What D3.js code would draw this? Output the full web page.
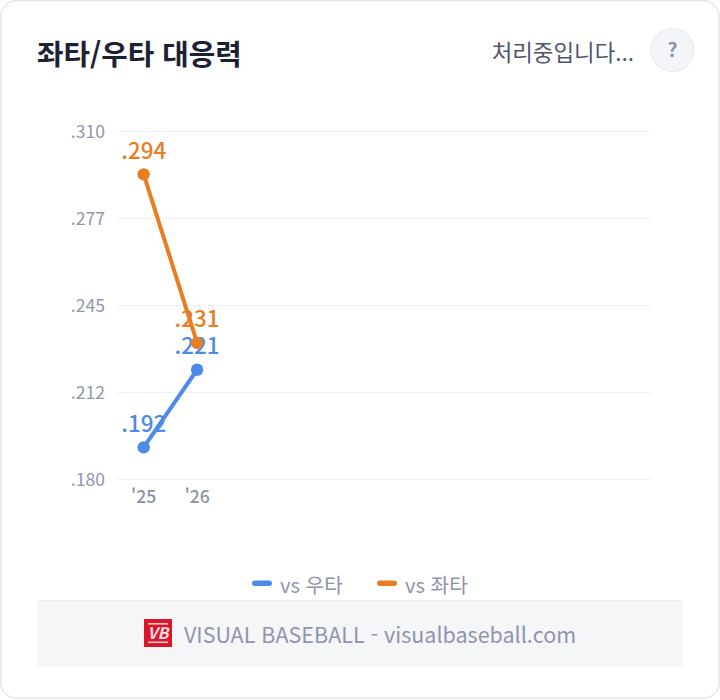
<!DOCTYPE html>
<html lang="ko">
<head>
<meta charset="utf-8">
<title>좌타/우타 대응력</title>
<script src="https://cdn.jsdelivr.net/npm/d3@7/dist/d3.min.js"></script>
<style>
  html, body { margin: 0; padding: 0; background: #fff; }
  svg, svg g, svg text { font-family: "Noto Sans CJK KR", "Noto Sans", sans-serif; }
  svg { display: block; }
</style>
</head>
<body>
<svg id="chart" width="720" height="700"></svg>
<script>
const chartTitle = "좌타/우타 대응력";
const statusText = "처리중입니다...";
const footerText = "VISUAL BASEBALL - visualbaseball.com";
const seasons = ["'25", "'26"];
const slotCount = 10;
const vsRight = [0.192, 0.221];
const vsLeft = [0.294, 0.231];
const tickValues = [0.31, 0.2775, 0.245, 0.2125, 0.18];
const tickLabels = [".310", ".277", ".245", ".212", ".180"];
const seriesNames = ["vs 우타", "vs 좌타"];
const seriesColors = ["#4e8ae8", "#e87e22"];

const svg = d3.select("#chart");

// Card
svg.append("rect").attr("x", 0.75).attr("y", 0.75).attr("width", 718.5).attr("height", 697.5)
  .attr("rx", 16).attr("fill", "#fff").attr("stroke", "#e4e7ee").attr("stroke-width", 1.5);

// Header
svg.append("text").attr("x", 37).attr("y", 64.5).text(chartTitle)
  .attr("font-size", 28.8).attr("font-weight", 700).attr("fill", "#1c2133");
svg.append("text").attr("x", 634).attr("y", 60.5).attr("text-anchor", "end").text(statusText)
  .attr("font-size", 22.4).attr("font-weight", 400).attr("fill", "#50556e");
svg.append("circle").attr("cx", 672.5).attr("cy", 50).attr("r", 21.5)
  .attr("fill", "#f4f5f8").attr("stroke", "#e6e8ee").attr("stroke-width", 1);
svg.append("text").attr("x", 672.5).attr("y", 57).attr("text-anchor", "middle").text("?")
  .attr("font-size", 20).attr("font-weight", 700).attr("fill", "#8e92ad");

// Scales
const x = d3.scaleBand().domain(d3.range(slotCount)).range([117, 651]);
const y = d3.scaleLinear().domain([0.18, 0.31]).range([479.5, 131.5]);
const cx = i => x(i) + x.bandwidth() / 2;

// Value labels on the left
const yAxis = d3.axisLeft(y).tickValues(tickValues)
  .tickFormat((d, i) => tickLabels[i]).tickSize(0).tickPadding(0);
const yG = svg.append("g").attr("transform", "translate(105,0.7)").call(yAxis);
yG.select(".domain").remove();
yG.selectAll("text").attr("font-size", 17.6).attr("fill", "#9296b0");

// Horizontal grid
svg.append("g").selectAll("line").data(tickValues).join("line")
  .attr("x1", 117).attr("x2", 651)
  .attr("y1", d => Math.floor(y(d)) + 0.5).attr("y2", d => Math.floor(y(d)) + 0.5)
  .attr("stroke", "#f0f1f5").attr("stroke-width", 1);

// Season labels
const xAxis = d3.axisBottom(x).tickValues(d3.range(seasons.length))
  .tickFormat(i => seasons[i]).tickSize(0).tickPadding(0);
const xG = svg.append("g").attr("transform", "translate(0,490)").call(xAxis);
xG.select(".domain").remove();
xG.selectAll("text").attr("font-size", 17.6).attr("font-weight", 500).attr("fill", "#8b8fa9");

// Series lines, points and value labels
const line = d3.line().x((d, i) => cx(i)).y(d => y(d));
[vsRight, vsLeft].forEach((values, s) => {
  const color = seriesColors[s];
  const g = svg.append("g");
  g.append("path").attr("d", line(values)).attr("fill", "none")
    .attr("stroke", color).attr("stroke-width", 4);
  g.selectAll("circle").data(values).join("circle")
    .attr("cx", (d, i) => cx(i)).attr("cy", d => y(d)).attr("r", 6.2).attr("fill", color);
  g.selectAll("text").data(values).join("text")
    .attr("x", (d, i) => cx(i)).attr("y", d => y(d) - 15.5)
    .attr("text-anchor", "middle").attr("font-size", 22.4).attr("font-weight", 500)
    .attr("fill", color).text(d => d3.format(".3f")(d).replace(/^0/, ""));
});

// Legend
const legendX = [252, 377];
seriesNames.forEach((name, i) => {
  svg.append("rect").attr("x", legendX[i]).attr("y", 580.5).attr("width", 20).attr("height", 5.5)
    .attr("rx", 2.75).attr("fill", seriesColors[i]);
  svg.append("text").attr("x", legendX[i] + 28).attr("y", 592.5).text(name)
    .attr("font-size", 20.2).attr("fill", "#8f93ad");
});

// Footer banner
svg.append("rect").attr("x", 37).attr("y", 600).attr("width", 646).attr("height", 66).attr("fill", "#f5f6f8");
svg.append("line").attr("x1", 37).attr("x2", 683).attr("y1", 600.5).attr("y2", 600.5).attr("stroke", "#eceef2");

// Footer logo
const logo = svg.append("g").attr("transform", "translate(144,619)");
logo.append("rect").attr("width", 28).attr("height", 28).attr("fill", "#d9162a");
logo.append("rect").attr("x", 4).attr("y", 4).attr("width", 20).attr("height", 1.6).attr("fill", "#f6c9cd");
logo.append("rect").attr("x", 4).attr("y", 22.5).attr("width", 20).attr("height", 1.6).attr("fill", "#f6c9cd");
logo.append("text").attr("x", 14).attr("y", 20).attr("text-anchor", "middle").text("VB")
  .attr("font-size", 16).attr("font-weight", 700).attr("font-style", "italic").attr("fill", "#f9dfe1");

svg.append("text").attr("x", 184).attr("y", 642.5).text(footerText)
  .attr("font-size", 21.5).attr("fill", "#9094ae");
</script>
</body>
</html>
